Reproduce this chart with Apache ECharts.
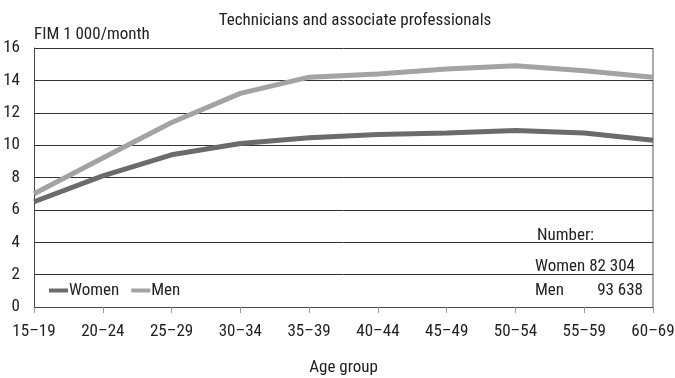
<!DOCTYPE html>
<html><head><meta charset="utf-8">
<script src="https://cdn.jsdelivr.net/npm/echarts@6/dist/echarts.min.js"></script>
<style>html,body{margin:0;padding:0;background:#fff}#c{width:675px;height:378px}</style>
</head><body><div id="c"></div>
<script>
const categories = ['15–19','20–24','25–29','30–34','35–39','40–44','45–49','50–54','55–59','60–69'];
const women = [6.5, 8.1, 9.4, 10.1, 10.45, 10.65, 10.75, 10.9, 10.75, 10.3];
const men = [7.0, 9.2, 11.4, 13.2, 14.2, 14.4, 14.7, 14.9, 14.6, 14.2];
const yTicks = [0, 2, 4, 6, 8, 10, 12, 14, 16];
const FONT = '"Roboto Condensed", "Liberation Sans Narrow", sans-serif';
const chart = echarts.init(document.getElementById('c'));
chart.setOption({
  animation: false,
  backgroundColor: '#fff',
  textStyle: { fontFamily: FONT },
  title: {
    text: 'Technicians and associate professionals',
    left: 350, top: 7, textAlign: 'center',
    textStyle: { fontFamily: FONT, fontSize: 17, fontWeight: 'normal', color: '#222' }
  },
  legend: {
    left: 44, top: 277, itemWidth: 19, itemHeight: 4, itemGap: 12,
    icon: 'rect',
    textStyle: { fontFamily: FONT, fontSize: 17, color: '#222', padding: [0,0,0,-4] },
    data: ['Women', 'Men']
  },
  grid: { left: 34, right: 22, top: 48, bottom: 71, containLabel: false, outerBoundsMode: 'none' },
  xAxis: {
    type: 'category', data: categories, boundaryGap: false,
    name: 'Age group', nameLocation: 'middle', nameGap: 52,
    nameTextStyle: { fontFamily: FONT, fontSize: 17, color: '#222' },
    axisLine: { lineStyle: { color: '#444', width: 1 } },
    axisTick: { show: true, length: 6, lineStyle: { color: '#999' } },
    axisLabel: { fontFamily: FONT, fontSize: 17, color: '#222', margin: 16 }
  },
  yAxis: {
    type: 'value', min: 0, max: 16, interval: 2,
    name: 'FIM 1 000/month', nameLocation: 'end', nameGap: 5,
    nameTextStyle: { fontFamily: FONT, fontSize: 17, color: '#222', align: 'left', padding: [0,0,0,0] },
    axisLine: { show: true, lineStyle: { color: '#444', width: 1 } },
    axisTick: { show: false },
    axisLabel: { fontFamily: FONT, fontSize: 17, color: '#222', margin: 14,
      formatter: v => yTicks.includes(v) ? String(v) : '' },
    splitLine: { lineStyle: { color: '#333', width: 1 } }
  },
  graphic: [
    { type: 'line', shape: { x1: 653, y1: 48, x2: 653, y2: 307 }, style: { stroke: '#555', lineWidth: 1 } },
    { type: 'text', left: 537, top: 227, style: { text: 'Number:', font: '17px ' + FONT, fill: '#222' } },
    { type: 'text', left: 535, top: 258, style: { text: 'Women 82 304', font: '17px ' + FONT, fill: '#222' } },
    { type: 'text', left: 535, top: 282, style: { text: 'Men', font: '17px ' + FONT, fill: '#222' } },
    { type: 'text', right: 32, top: 282, style: { text: '93 638', font: '17px ' + FONT, fill: '#222' } }
  ],
  series: [
    { name: 'Women', type: 'line', data: women, symbol: 'none', color: '#6b6b6b',
      lineStyle: { width: 5, color: '#6b6b6b' } },
    { name: 'Men', type: 'line', data: men, symbol: 'none', color: '#a3a3a3',
      lineStyle: { width: 5, color: '#a3a3a3' } }
  ]
});
</script></body></html>
